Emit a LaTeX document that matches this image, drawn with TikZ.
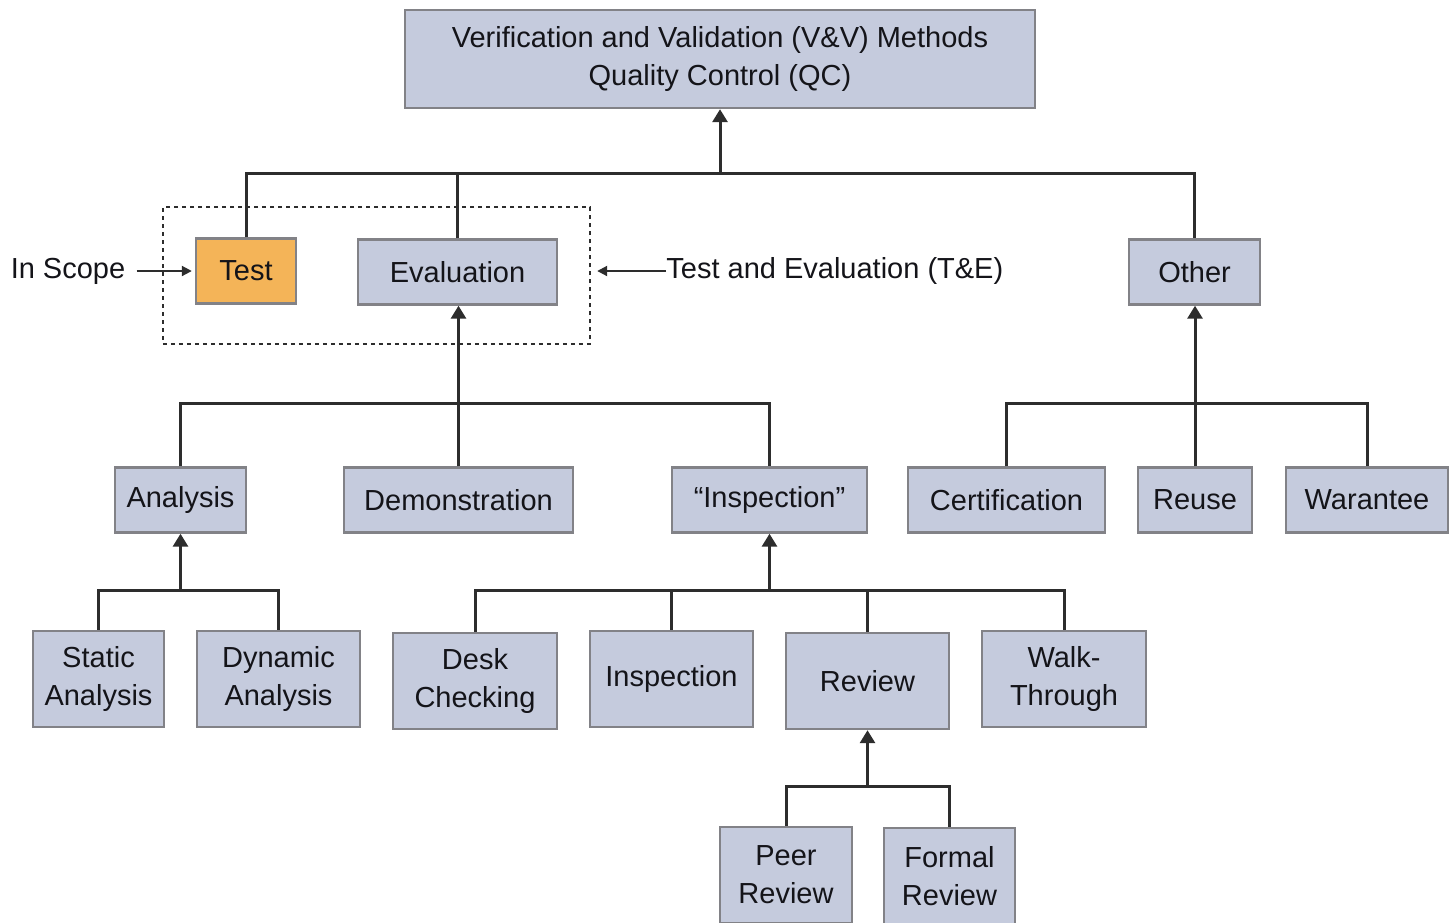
\documentclass[tikz,border=0pt]{standalone}
\usepackage{fontspec}
\setmainfont{Liberation Sans}
\usepackage{xcolor}
\usepackage{tikz}
\usetikzlibrary{arrows.meta, fit}
\definecolor{boxfill}{RGB}{197,203,221}
\definecolor{boxline}{RGB}{130,130,135}
\definecolor{testfill}{RGB}{244,180,88}
\definecolor{linecol}{RGB}{45,45,45}
\definecolor{textcol}{RGB}{20,20,25}
\tikzset{
  box/.style={
    rectangle, draw=boxline, line width=1.2pt, fill=boxfill,
    inner sep=0pt, align=center, text=textcol,
    font=\fontsize{14.5}{19}\selectfont
  },
  onebox/.style  = {box, minimum height=32.5pt},
  twobox/.style  = {box, minimum height=48pt},
  testbox/.style = {onebox, fill=testfill},
  line/.style    = {draw=linecol, line width=1.5pt},
  arr/.style     = {line, -{Triangle[length=6.5pt, width=7.5pt]}},
  scopebox/.style= {draw=linecol, line width=1pt, dash pattern=on 2pt off 2pt,
                    inner xsep=16pt, inner ysep=17pt},
  side/.style    = {text=textcol, font=\fontsize{14.5}{19}\selectfont},
  sidearr/.style = {draw=linecol, line width=1pt, -{Triangle[length=5pt, width=5pt]}},
}

\begin{document}
\begin{tikzpicture}[x=0.5pt, y=-0.5pt]
  \useasboundingbox (0,0) rectangle (1455,922);

  % ── top level ──────────────────────────────────────────────────────────────
  \node[box, minimum width=315pt, minimum height=49pt] (vv) at (720,59)
       {Verification and Validation (V\&V) Methods\\Quality Control (QC)};

  % ── second level ───────────────────────────────────────────────────────────
  \node[testbox, minimum width=50pt]   (test)  at (246,271)    {Test};
  \node[onebox, minimum width=99.5pt]  (eval)  at (457.5,272)  {Evaluation};
  \node[onebox, minimum width=65.5pt]  (other) at (1194.5,272) {Other};

  % ── third level ────────────────────────────────────────────────────────────
  \node[onebox, minimum width=65.5pt]  (analysis) at (180.5,500)  {Analysis};
  \node[onebox, minimum width=114.5pt] (demo)     at (458.5,500)  {Demonstration};
  \node[onebox, minimum width=97.5pt]  (insp)     at (769.5,500)  {``Inspection''};
  \node[onebox, minimum width=98.5pt]  (cert)     at (1006.5,500) {Certification};
  \node[onebox, minimum width=57pt]    (reuse)    at (1195,500)   {Reuse};
  \node[onebox, minimum width=81pt]    (warr)     at (1367,500)   {Warantee};

  % ── fourth level ───────────────────────────────────────────────────────────
  \node[twobox, minimum width=65.5pt] (static)  at (98.5,679)  {Static\\Analysis};
  \node[twobox, minimum width=81.5pt] (dynamic) at (278.5,679) {Dynamic\\Analysis};
  \node[twobox, minimum width=82pt]   (desk)    at (475,681)   {Desk\\Checking};
  \node[twobox, minimum width=81.5pt] (inspb)   at (671.5,679) {Inspection};
  \node[twobox, minimum width=81.5pt] (review)  at (867.5,681) {Review};
  \node[twobox, minimum width=82pt]   (walk)    at (1064,679)  {Walk-\\Through};

  % ── fifth level ────────────────────────────────────────────────────────────
  \node[twobox, minimum width=66pt]   (peer)    at (786,875)   {Peer\\Review};
  \node[twobox, minimum width=65.5pt] (formal)  at (949.5,876) {Formal\\Review};

  % ── scope box and side labels ──────────────────────────────────────────────
  \node[scopebox, fit=(test)(eval), yshift=-2pt] (scope) {};
  \node[side, inner xsep=5.5pt] (inscope) at (68,271) {In Scope};
  \node[side, anchor=west, inner xsep=0pt] (tande) at (666,271) {Test and Evaluation (T\&E)};
  \draw[sidearr, shorten >=1.5pt] (inscope.east) -- (inscope.east -| test.west);
  \draw[sidearr, shorten >=3pt] (tande.west) -- (tande.west -| scope.east);

  % ── buses ──────────────────────────────────────────────────────────────────
  \coordinate (bus1) at (720,173);
  \coordinate (bus2) at (458,403);
  \coordinate (bus3) at (1195,403);
  \coordinate (bus4) at (180.5,590);
  \coordinate (bus5) at (769.5,590);
  \coordinate (bus6) at (867.5,786);

  % ── to V&V ─────────────────────────────────────────────────────────────────
  \draw[line] (test.north) |- (bus1) -| (other.north);
  \draw[line] (eval.north) -- (eval.north |- bus1);
  \draw[arr]  (bus1) -- (vv.south);

  % ── to Evaluation / Other ──────────────────────────────────────────────────
  \draw[line] (analysis.north) |- (bus2) -| (insp.north);
  \draw[arr]  (demo.north) -- (demo.north |- eval.south);
  \draw[line] (cert.north) |- (bus3) -| (warr.north);
  \draw[arr]  (reuse.north) -- (reuse.north |- other.south);

  % ── to Analysis / "Inspection" ─────────────────────────────────────────────
  \draw[line] (static.north) |- (bus4) -| (dynamic.north);
  \draw[arr]  (bus4) -- (analysis.south);
  \draw[line] (desk.north) |- (bus5) -| (walk.north);
  \draw[line] (inspb.north) -- (inspb.north |- bus5);
  \draw[line] (review.north) -- (review.north |- bus5);
  \draw[arr]  (bus5) -- (insp.south);

  % ── to Review ──────────────────────────────────────────────────────────────
  \draw[line] (peer.north) |- (bus6) -| (formal.north);
  \draw[arr]  (bus6) -- (review.south);

\end{tikzpicture}
\end{document}
